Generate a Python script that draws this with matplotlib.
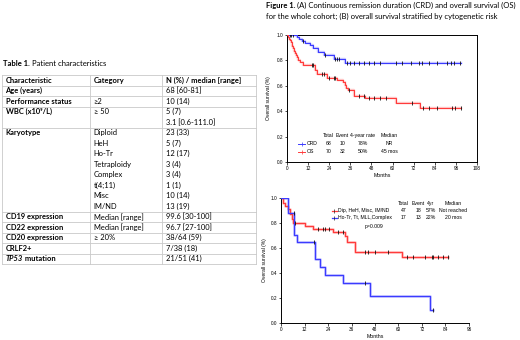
import matplotlib
matplotlib.use("Agg")
import matplotlib.pyplot as plt

W, H = 520, 340

# ---- table data ----
header = ["Characteristic", "Category", "N (%) / median [range]"]
characteristics = ["Age (years)", "Performance status", "WBC (x10\u2079/L)", "Karyotype",
                   "CD19 expression", "CD22 expression", "CD20 expression", "CRLF2+",
                   "TP53 mutation"]
categories = [[""], ["\u22652"], ["\u2265 50", ""],
              ["Diploid", "HeH", "Ho-Tr", "Tetraploidy", "Complex", "t(4;11)", "Misc", "IM/ND"],
              ["Median [range]"], ["Median [range]"], ["\u2265 20%"], [""], [""]]
values = [["68 [60-81]"], ["10 (14)"], ["5 (7)", "3.1 [0.6-111.0]"],
          ["23 (33)", "5 (7)", "12 (17)", "3 (4)", "3 (4)", "1 (1)", "10 (14)", "13 (19)"],
          ["99.6 [30-100]"], ["96.7 [27-100]"], ["38/64 (59)"], ["7/38 (18)"], ["21/51 (41)"]]

# ---- panel A: CRD and OS, whole cohort ----
crd_t = [0, 5.5, 7.0, 8.4, 10.3, 13.1, 15.0, 17.9, 20.8, 26.5, 33.1, 99]
crd_s = [1.0, 0.985, 0.97, 0.955, 0.94, 0.925, 0.895, 0.87, 0.84, 0.81, 0.78, 0.78]
crd_cens = [1.5, 2.5, 3.2, 9.0, 21.5, 27.5, 28.5, 29.5, 34, 36, 38, 40.8, 43.6, 46.5, 49.3,
            53.1, 61.7, 65.5, 70.3, 75, 77, 80.8, 85.5, 91.2, 93.1, 95, 98.3]
os_t = [0, 0.8, 1.3, 1.8, 2.2, 2.6, 3.0, 3.4, 3.8, 4.2, 4.6, 5.0, 5.5, 6.0, 6.5, 6.8, 7.2,
        9.3, 16.0, 17.0, 22.7, 28.4, 31.6, 32.8, 33.7, 34.7, 37.9, 44.2, 61.7, 75.4, 99]
os_s = [1.0, 0.986, 0.971, 0.957, 0.943, 0.929, 0.914, 0.90, 0.886, 0.871, 0.857, 0.843,
        0.829, 0.814, 0.80, 0.80, 0.785, 0.76, 0.725, 0.69, 0.66, 0.645, 0.627, 0.605, 0.585,
        0.565, 0.52, 0.505, 0.466, 0.426, 0.426]
os_cens = [14, 15, 19.8, 20.8, 23.7, 26.6, 27.4, 35.4, 40.8, 43.6, 46.5, 49.3, 53.1, 56,
           71.3, 77.1, 80.8, 85.5, 93.9, 95.7, 98.9]
legA_cols = ["Total", "Event", "4-year rate", "Median"]
legA_names = ["CRD", "OS"]
legA_rows = [["68", "10", "78%", "NR"], ["70", "32", "50%", "45 mos"]]

# ---- panel B: OS by cytogenetic risk ----
low_t = [0, 1.2, 2.0, 3.7, 4.6, 5.4, 6.3, 12.3, 16.5, 26.7, 32.7, 33.5, 37.8, 61.6, 85.4]
low_s = [1.0, 0.957, 0.936, 0.915, 0.874, 0.83, 0.80, 0.78, 0.755, 0.73, 0.70, 0.645,
         0.57, 0.525, 0.525]
low_cens = [7.0, 19.1, 21.6, 22.5, 24.7, 29.0, 31.8, 42.9, 44.6, 48.0, 54.8, 64.2, 67.6,
            73.5, 76.9, 77.8, 80.3, 82.9, 85.4]
high_t = [0, 3.4, 6.8, 8.0, 17.4, 20.0, 22.5, 31.8, 45.4, 76.0, 77.8]
high_s = [1.0, 0.882, 0.706, 0.647, 0.515, 0.45, 0.387, 0.322, 0.215, 0.107, 0.107]
high_cens = [6.5, 17.0, 42.9, 77.8]
legB_cols = ["Total", "Event", "4yr", "Median"]
legB_names = ["Dip, HeH, Misc, IM/ND", "Ho-Tr, Tt, MLL,Complex"]
legB_rows = [["47", "18", "57%", "Not reached"], ["17", "13", "22%", "20 mos"]]
p_text = "p=0.009"

RED = "#ff3b3b"
BLUE = "#3b3bff"
TFONT = ["Lato", "DejaVu Sans"]
PFONT = ["Liberation Sans", "DejaVu Sans"]


def rect(left, top, right, bottom):
    return [left / W, 1 - bottom / H, (right - left) / W, (bottom - top) / H]


fig = plt.figure(figsize=(W / 100, H / 100), dpi=100)
base = fig.add_axes([0, 0, 1, 1])
base.set_xlim(0, W)
base.set_ylim(H, 0)
base.axis("off")
renderer = fig.canvas.get_renderer()


def runs(x, y, parts, size):
    """Draw consecutive text runs (text, weight, style) on one line."""
    for txt, weight, style in parts:
        t = base.text(x, y, txt, fontsize=size, fontweight=weight, fontstyle=style,
                      family=TFONT, va="center", ha="left")
        bb = t.get_window_extent(renderer)
        x += bb.width


# ---- figure title ----
runs(266, 5.5, [("Figure 1.", "bold", "normal"),
                (" (A) Continuous remission duration (CRD) and overall survival (OS)", "normal", "normal")], 5.5)
runs(266, 16, [("for the whole cohort; (B) overall survival stratified by cytogenetic risk", "normal", "normal")], 5.5)

# ---- table ----
runs(3, 63, [("Table 1.", "bold", "normal"), (" Patient characteristics", "normal", "normal")], 5.5)

col_x = [2, 90, 162, 256]
pitch = 10.5
top = 75
fs = 5.4
lc = "#c9c9c9"
y = top
for j, h in enumerate(header):
    base.text(col_x[j] + 3.5, y + pitch / 2, h, fontsize=fs, fontweight="bold",
              family=TFONT, va="center")
hlines = [top, top + pitch]
y = top + pitch
for name, cats, vals in zip(characteristics, categories, values):
    if name.startswith("TP53"):
        runs(col_x[0] + 3.5, y + pitch / 2, [("TP53", "bold", "italic"),
                                             (" mutation", "bold", "normal")], fs)
    else:
        base.text(col_x[0] + 3.5, y + pitch / 2, name, fontsize=fs, fontweight="bold",
                  family=TFONT, va="center")
    for k, (c, v) in enumerate(zip(cats, vals)):
        yy = y + pitch * k + pitch / 2
        base.text(col_x[1] + 3.5, yy, c, fontsize=fs, family=TFONT, va="center")
        base.text(col_x[2] + 3.5, yy, v, fontsize=fs, family=TFONT, va="center")
    y += pitch * len(cats)
    hlines.append(y)
for hy in hlines:
    base.plot([col_x[0], col_x[-1]], [hy, hy], color=lc, lw=0.6)
for cx in col_x:
    base.plot([cx, cx], [top, hlines[-1]], color=lc, lw=0.6)


def km(ax, t, s, cens, color, lw=0.8):
    ax.step(t, s, where="post", color=color, lw=lw * 2.2, alpha=0.25, zorder=2)
    ax.step(t, s, where="post", color=color, lw=lw, zorder=3)
    cy = []
    for c in cens:
        idx = max(i for i, tt in enumerate(t) if tt <= c)
        cy.append(s[idx])
    ax.plot(cens, cy, ls="none", marker="|", ms=2.6, mew=0.6, color="#111111", zorder=4)


def style_axes(ax):
    ax.tick_params(labelsize=3.4, length=1.8, width=0.5, pad=1)
    for lab in ax.get_xticklabels() + ax.get_yticklabels():
        lab.set_family(PFONT)
    ax.set_yticks([0, 0.2, 0.4, 0.6, 0.8, 1.0])
    ax.set_yticklabels(["0.0", "0.2", "0.4", "0.6", "0.8", "1.0"], family=PFONT, fontsize=3.4)
    ax.set_ylim(0, 1.0)


# ---- panel A ----
axA = fig.add_axes(rect(287, 35, 477, 162))
km(axA, crd_t, crd_s, crd_cens, BLUE)
km(axA, os_t, os_s, os_cens, RED)
axA.set_xlim(0, 108)
axA.set_xticks(range(0, 109, 12))
style_axes(axA)
for sp in axA.spines.values():
    sp.set_linewidth(0.7)
axA.set_xlabel("Months", fontsize=3.8, family=PFONT, labelpad=1.5)
axA.set_ylabel("Overall survival (%)", fontsize=3.6, family=PFONT)
axA.yaxis.set_label_coords(-0.085, 0.5)

colA = [23.5, 31.5, 42.9, 58.3]
rowA = [0.205, 0.145, 0.08]
for c, lab in zip(colA, legA_cols):
    axA.text(c, rowA[0], lab, fontsize=3.7, family=PFONT, ha="center", va="center")
for r, (nm, vals, col) in enumerate(zip(legA_names, legA_rows, [BLUE, RED])):
    ry = rowA[r + 1]
    axA.plot([6.3, 10.3], [ry, ry], color=col, lw=0.7)
    axA.plot([8.3], [ry], marker="|", ms=2.6, mew=0.5, color=col)
    axA.text(11.4, ry, nm, fontsize=3.7, family=PFONT, va="center")
    for c, v in zip(colA, vals):
        axA.text(c, ry, v, fontsize=3.7, family=PFONT, ha="center", va="center")

# ---- panel B ----
axB = fig.add_axes(rect(281, 198, 469, 323))
km(axB, low_t, low_s, low_cens, RED, lw=0.9)
km(axB, high_t, high_s, high_cens, BLUE, lw=0.9)
axB.set_xlim(0, 96)
axB.set_xticks(range(0, 97, 12))
style_axes(axB)
axB.spines["top"].set_visible(False)
axB.spines["right"].set_visible(False)
for sp in ("left", "bottom"):
    axB.spines[sp].set_linewidth(0.7)
axB.set_xlabel("Months", fontsize=3.8, family=PFONT, labelpad=1.5)
axB.set_ylabel("Overall survival (%)", fontsize=3.6, family=PFONT)
axB.yaxis.set_label_coords(-0.075, 0.5)

colB = [62.5, 70.1, 76.6, 88.0]
rowB = [0.955, 0.9, 0.842]
for c, lab in zip(colB, legB_cols):
    axB.text(c, rowB[0], lab, fontsize=3.7, family=PFONT, ha="center", va="center")
for r, (nm, vals, col) in enumerate(zip(legB_names, legB_rows, [RED, BLUE])):
    ry = rowB[r + 1]
    axB.plot([25.9, 28.6], [ry, ry], color=col, lw=0.9)
    axB.plot([27.2], [ry], marker="|", ms=2.4, mew=0.5, color="#222222")
    axB.text(29.3, ry, nm, fontsize=3.7, family=PFONT, va="center")
    for c, v in zip(colB, vals):
        axB.text(c, ry, v, fontsize=3.7, family=PFONT, ha="center", va="center")
axB.text(42.9, 0.771, p_text, fontsize=3.7, family=PFONT, va="center")

fig.savefig("out.png", dpi=100)
